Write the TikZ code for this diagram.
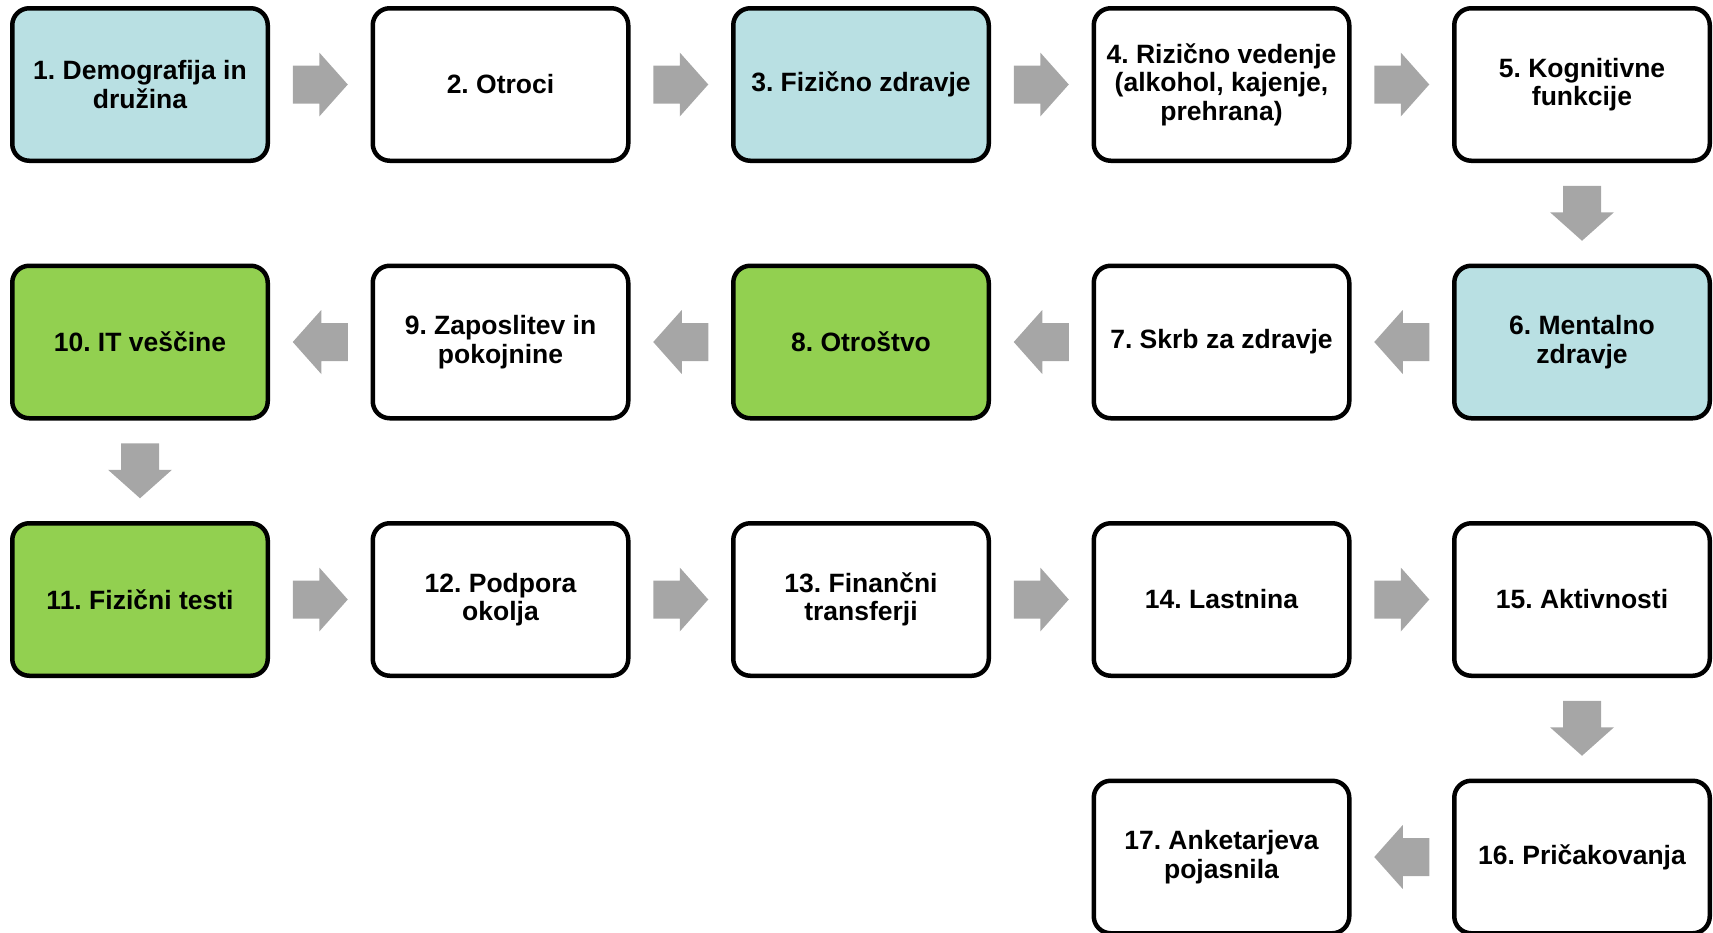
\documentclass[tikz,border=0pt]{standalone}
\usepackage{fontspec}
\setmainfont{Liberation Sans}
\frenchspacing
\usetikzlibrary{calc}
\definecolor{boxblue}{HTML}{B9E0E3}
\definecolor{boxgreen}{HTML}{92D050}
\definecolor{arrowgray}{HTML}{A6A6A6}
\tikzset{
  x=1pt, y=1pt,
  stage/.style={draw=black, line width=4.5pt, rounded corners=17pt, fill=white,
    minimum width=255.5pt, minimum height=152.5pt, inner sep=0pt,
    align=center, font=\fontsize{26.5}{28.5}\selectfont\bfseries},
  bluebox/.style={stage, fill=boxblue},
  greenbox/.style={stage, fill=boxgreen},
  blockarrow/.pic={\fill[arrowgray] (-27.5,-19) -- (-1,-19) -- (-1,-32) -- (27.5,0) -- (-1,32) -- (-1,19) -- (-27.5,19) -- cycle;}
}
\begin{document}
\begin{tikzpicture}
\useasboundingbox (0,0) rectangle (1713,-932);
\begin{scope}
\clip (0,0) rectangle (1713,-932);
% row 1
\node[bluebox]  (b1) at (140,-84.5)    {1. Demografija in\\dru\v{z}ina};
\node[stage]    (b2) at (500.5,-84.5)  {2. Otroci};
\node[bluebox]  (b3) at (861,-84.5)    {3. Fizi\v{c}no zdravje};
\node[stage]    (b4) at (1221.5,-84.5) {4. Rizi\v{c}no vedenje\\(alkohol, kajenje,\\prehrana)};
\node[stage]    (b5) at (1582,-84.5)   {5. Kognitivne\\funkcije};
% row 2
\node[bluebox]  (b6) at (1582,-342)    {6. Mentalno\\zdravje};
\node[stage]    (b7) at (1221.5,-342)  {7. Skrb za zdravje};
\node[greenbox] (b8) at (861,-342)     {8. Otro\v{s}tvo};
\node[stage]    (b9) at (500.5,-342)   {9. Zaposlitev in\\pokojnine};
\node[greenbox] (b10) at (140,-342)    {10. IT ve\v{s}\v{c}ine};
% row 3
\node[greenbox] (b11) at (140,-599.5)    {11. Fizi\v{c}ni testi};
\node[stage]    (b12) at (500.5,-599.5)  {12. Podpora\\okolja};
\node[stage]    (b13) at (861,-599.5)    {13. Finan\v{c}ni\\transferji};
\node[stage]    (b14) at (1221.5,-599.5) {14. Lastnina};
\node[stage]    (b15) at (1582,-599.5)   {15. Aktivnosti};
% row 4
\node[stage]    (b16) at (1582,-857)     {16. Pri\v{c}akovanja};
\node[stage]    (b17) at (1221.5,-857)   {17. Anketarjeva\\pojasnila};
\end{scope}
% arrows row 1
\pic at ($(b1.east)!0.5!(b2.west)$) {blockarrow};
\pic at ($(b2.east)!0.5!(b3.west)$) {blockarrow};
\pic at ($(b3.east)!0.5!(b4.west)$) {blockarrow};
\pic at ($(b4.east)!0.5!(b5.west)$) {blockarrow};
\pic[rotate=-90] at ($(b5.south)!0.5!(b6.north)$) {blockarrow};
% arrows row 2
\pic[rotate=180] at ($(b6.west)!0.5!(b7.east)$) {blockarrow};
\pic[rotate=180] at ($(b7.west)!0.5!(b8.east)$) {blockarrow};
\pic[rotate=180] at ($(b8.west)!0.5!(b9.east)$) {blockarrow};
\pic[rotate=180] at ($(b9.west)!0.5!(b10.east)$) {blockarrow};
\pic[rotate=-90] at ($(b10.south)!0.5!(b11.north)$) {blockarrow};
% arrows row 3
\pic at ($(b11.east)!0.5!(b12.west)$) {blockarrow};
\pic at ($(b12.east)!0.5!(b13.west)$) {blockarrow};
\pic at ($(b13.east)!0.5!(b14.west)$) {blockarrow};
\pic at ($(b14.east)!0.5!(b15.west)$) {blockarrow};
\pic[rotate=-90] at ($(b15.south)!0.5!(b16.north)$) {blockarrow};
% arrow row 4
\pic[rotate=180] at ($(b16.west)!0.5!(b17.east)$) {blockarrow};
\end{tikzpicture}
\end{document}
